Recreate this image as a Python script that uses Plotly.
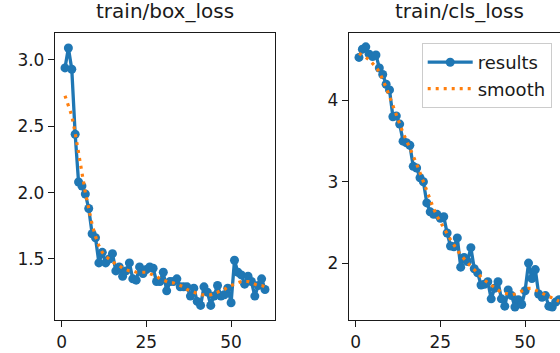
import plotly.graph_objects as go

epochs = list(range(1, 61))

box_loss = [2.94, 3.09, 2.93, 2.44, 2.08, 2.05, 1.99, 1.88, 1.69, 1.66,
            1.47, 1.55, 1.47, 1.50, 1.54, 1.41, 1.44, 1.37, 1.41, 1.47,
            1.35, 1.34, 1.44, 1.39, 1.42, 1.44, 1.43, 1.33, 1.33, 1.40,
            1.26, 1.33, 1.33, 1.35, 1.29, 1.29, 1.29, 1.22, 1.28, 1.18,
            1.15, 1.29, 1.25, 1.15, 1.22, 1.30, 1.22, 1.23, 1.28, 1.17,
            1.49, 1.40, 1.38, 1.31, 1.37, 1.33, 1.22, 1.30, 1.35, 1.27]

box_smooth = [2.73, 2.66, 2.58, 2.45, 2.30, 2.14, 2.00, 1.88, 1.76, 1.67,
              1.60, 1.55, 1.52, 1.50, 1.48, 1.46, 1.45, 1.43, 1.42, 1.41,
              1.41, 1.40, 1.40, 1.40, 1.40, 1.39, 1.38, 1.37, 1.35, 1.34,
              1.33, 1.32, 1.32, 1.31, 1.30, 1.29, 1.27, 1.26, 1.25, 1.24,
              1.23, 1.23, 1.23, 1.23, 1.24, 1.25, 1.26, 1.27, 1.29, 1.30,
              1.31, 1.32, 1.33, 1.33, 1.33, 1.32, 1.31, 1.30, 1.30, 1.29]

cls_loss = [4.53, 4.63, 4.66, 4.57, 4.54, 4.56, 4.40, 4.32, 4.20, 4.13,
            3.80, 3.81, 3.71, 3.50, 3.48, 3.45, 3.19, 3.17, 3.05, 3.00,
            2.74, 2.63, 2.60, 2.60, 2.55, 2.57, 2.37, 2.21, 2.20, 2.31,
            1.95, 2.07, 2.02, 2.19, 1.93, 1.88, 1.73, 1.74, 1.77, 1.56,
            1.69, 1.77, 1.56, 1.47, 1.67, 1.60, 1.46, 1.55, 1.49, 1.66,
            2.00, 1.81, 1.92, 1.62, 1.58, 1.60, 1.47, 1.46, 1.52, 1.55]

cls_smooth = [4.58, 4.56, 4.53, 4.50, 4.46, 4.41, 4.35, 4.26, 4.16, 4.05,
              3.93, 3.81, 3.70, 3.60, 3.51, 3.42, 3.32, 3.22, 3.11, 3.00,
              2.88, 2.77, 2.67, 2.58, 2.50, 2.43, 2.36, 2.29, 2.22, 2.16,
              2.10, 2.05, 2.00, 1.96, 1.92, 1.87, 1.83, 1.79, 1.76, 1.72,
              1.69, 1.66, 1.64, 1.63, 1.62, 1.61, 1.62, 1.64, 1.66, 1.68,
              1.69, 1.69, 1.67, 1.65, 1.63, 1.61, 1.59, 1.56, 1.54, 1.53]

titles = ["train/box_loss", "train/cls_loss"]
x_ticks = [0, 25, 50]
box_ticks = [1.5, 2.0, 2.5, 3.0]
cls_ticks = [2, 3, 4]

W, H = 560, 353
BLUE = "#1f77b4"
ORANGE = "#ff7f0e"
FONT = "DejaVu Sans"
INK = "#1a1a1a"

fig = go.Figure()

def add_pair(y_res, y_sm, xa, ya, show):
    fig.add_trace(go.Scatter(
        x=epochs, y=y_res, xaxis=xa, yaxis=ya, name="results",
        mode="lines+markers", line=dict(color=BLUE, width=3.3),
        marker=dict(color=BLUE, size=9), showlegend=show))
    fig.add_trace(go.Scatter(
        x=epochs, y=y_sm, xaxis=xa, yaxis=ya, name="smooth",
        mode="lines", line=dict(color=ORANGE, width=3.2, dash="3px,5px"),
        showlegend=show))

add_pair(box_loss, box_smooth, "x", "y", False)
add_pair(cls_loss, cls_smooth, "x2", "y2", True)

def px_x(p):
    return p / W

def px_y(p):
    return 1 - p / H

axis_common = dict(
    showgrid=False, zeroline=False, showline=True, linecolor=INK, linewidth=1.3,
    ticks="outside", ticklen=6, tickwidth=1.3, tickcolor=INK,
    tickfont=dict(family=FONT, size=17, color=INK),
)

fig.update_layout(
    width=W, height=H,
    margin=dict(l=0, r=0, t=0, b=0),
    paper_bgcolor="white", plot_bgcolor="white",
    showlegend=True,
    xaxis=dict(domain=[px_x(55), px_x(275)], range=[-1.95, 62.95],
               tickvals=x_ticks, mirror=True, anchor="y", **axis_common),
    yaxis=dict(domain=[px_y(320), px_y(33)], range=[1.04, 3.203],
               tickvals=box_ticks, ticktext=[f"{v:.1f}" for v in box_ticks],
               mirror=True, anchor="x", **axis_common),
    xaxis2=dict(domain=[px_x(349), 1.0], range=[-1.95, 60.29],
                tickvals=x_ticks, mirror=True, anchor="y2", **axis_common),
    yaxis2=dict(domain=[px_y(320), px_y(33)], range=[1.30, 4.83],
                tickvals=cls_ticks, mirror=False, anchor="x2", **axis_common),
    legend=dict(x=px_x(421.7), y=px_y(43), xanchor="left", yanchor="top",
                itemwidth=45, tracegroupgap=0,
                bgcolor="rgba(255,255,255,0.8)", bordercolor="#cccccc",
                borderwidth=1, font=dict(family=FONT, size=18, color=INK)),
    annotations=[
        dict(text=titles[0], x=px_x(165), y=px_y(25), xref="paper", yref="paper",
             xanchor="center", yanchor="bottom", showarrow=False,
             font=dict(family=FONT, size=20, color=INK)),
        dict(text=titles[1], x=px_x(459), y=px_y(25), xref="paper", yref="paper",
             xanchor="center", yanchor="bottom", showarrow=False,
             font=dict(family=FONT, size=20, color=INK)),
    ],
)

fig.write_html("out.html")
